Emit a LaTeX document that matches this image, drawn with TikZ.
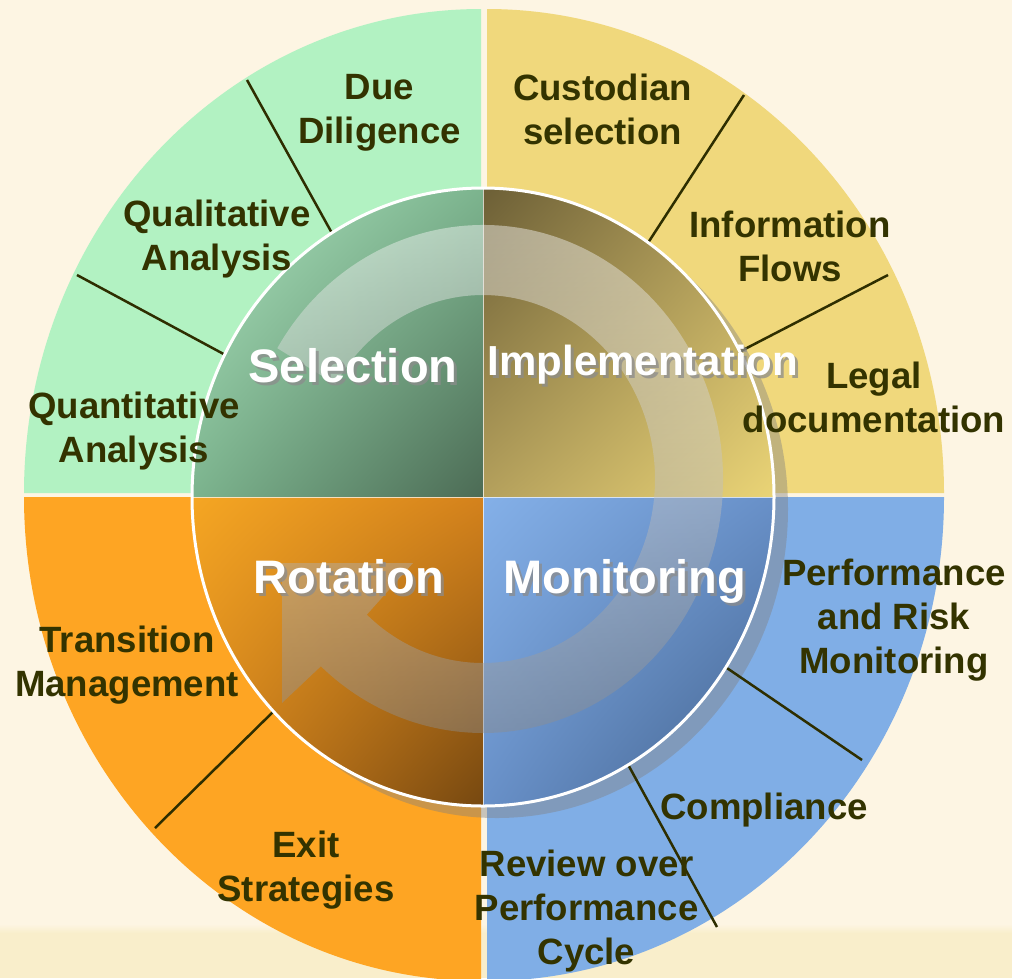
\documentclass[tikz,border=0pt]{standalone}
\usepackage{fontspec}
\setmainfont{Liberation Sans}
\usetikzlibrary{calc,shadings}

% page and ring colours
\definecolor{bgc}{HTML}{FDF5E3}
\definecolor{bandc}{HTML}{F9EECB}
\definecolor{ringgreen}{HTML}{B2F2C2}
\definecolor{ringyellow}{HTML}{F0D87C}
\definecolor{ringorange}{HTML}{FEA523}
\definecolor{ringblue}{HTML}{80AEE6}
\definecolor{labelc}{HTML}{333300}
\definecolor{sepc}{HTML}{2E2E00}
% hub quadrant shades
\definecolor{gUL}{HTML}{AEE6C0}\definecolor{gM}{HTML}{7CB48E}\definecolor{gLR}{HTML}{4C6B55}
\definecolor{yUL}{HTML}{6C5F36}\definecolor{yM}{HTML}{B4A05C}\definecolor{yLR}{HTML}{EAD476}
\definecolor{oUL}{HTML}{F5A623}\definecolor{oM}{HTML}{D4821C}\definecolor{oLR}{HTML}{764810}
\definecolor{bUL}{HTML}{84B0E8}\definecolor{bM}{HTML}{6890C8}\definecolor{bLR}{HTML}{41608A}
\definecolor{arrowdark}{HTML}{8C8C8C}

\begin{document}
\begin{tikzpicture}[x=1pt,y=-1pt,
  lbl/.style={font=\fontsize{36.6}{44}\selectfont\bfseries, text=labelc,
    align=center, inner sep=0pt},
  hub/.style={font=\fontsize{47}{52}\selectfont\bfseries, text=white,
    anchor=base, inner sep=0pt},
  hubsmall/.style={hub, font=\fontsize{42}{48}\selectfont\bfseries},
  hubshadow/.style={text=black!45, text opacity=0.75},
  sep/.style={draw=sepc, line width=2.5pt},
]
% canvas
\useasboundingbox (0,0) rectangle (1012,978);
\fill[bgc] (0,0) rectangle (1012,978);
\fill[bandc] (0,932) rectangle (1012,978);
\shade[top color=bgc, bottom color=bandc] (0,924) rectangle (1012,933);

% outer ring quadrants
\fill[ringgreen] (481,493) -- ++(-457,0)
  arc[start angle=180, end angle=270, x radius=457, y radius=484] -- cycle;
\fill[ringyellow] (487,493) -- ++(0,-484)
  arc[start angle=270, end angle=360, x radius=457, y radius=484] -- cycle;
\fill[ringblue] (487,497) -- ++(457,0)
  arc[start angle=0, end angle=90, x radius=457, y radius=484] -- cycle;
\fill[ringorange] (481,497) -- ++(0,484)
  arc[start angle=90, end angle=180, x radius=457, y radius=484] -- cycle;

% drop shadow of the hub
\fill[black!50, fill opacity=0.42] (497,509) ellipse [x radius=291, y radius=309];

% separators between the ring entries
\coordinate (s1o) at (247,80);  \coordinate (s1i) at (333,235);
\coordinate (s2o) at (77,275);  \coordinate (s2i) at (231,358);
\coordinate (s3o) at (744,95);  \coordinate (s3i) at (644,249);
\coordinate (s4o) at (888,275); \coordinate (s4i) at (741,351);
\coordinate (s5o) at (862,760); \coordinate (s5i) at (721,664);
\coordinate (s6o) at (717,927); \coordinate (s6i) at (625,759);
\coordinate (s7o) at (155,828); \coordinate (s7i) at (280,705);
\foreach \k in {1,...,7} \draw[sep] (s\k o) -- (s\k i);

% hub quadrants
\shade[upper left=gUL, upper right=gM, lower left=gM, lower right=gLR]
  (483,497) -- ++(-291,0)
  arc[start angle=180, end angle=270, x radius=291, y radius=309] -- cycle;
\shade[upper left=yUL, upper right=yM, lower left=yM, lower right=yLR]
  (483,497) -- ++(0,-309)
  arc[start angle=270, end angle=360, x radius=291, y radius=309] -- cycle;
\shade[upper left=bUL, upper right=bM, lower left=bM, lower right=bLR]
  (483,497) -- ++(291,0)
  arc[start angle=0, end angle=90, x radius=291, y radius=309] -- cycle;
\shade[upper left=oUL, upper right=oM, lower left=oM, lower right=oLR]
  (483,497) -- ++(0,309)
  arc[start angle=90, end angle=180, x radius=291, y radius=309] -- cycle;
\draw[white, line width=0.8pt, draw opacity=0.7] (192,497) -- (774,497) (483,188) -- (483,806);
\draw[white, line width=3pt] (483,497) ellipse [x radius=291, y radius=309];

% clockwise cycle arrow across the hub
\shade[top color=white, bottom color=arrowdark, fill opacity=0.45]
  (483,479) ++(211:240 and 254)
  arc[start angle=211, end angle=492.5, x radius=240, y radius=254]
  -- (282,703) -- (282,563) -- (413,563)
  -- ($(483,479)+(492.5:172 and 184)$)
  arc[start angle=492.5, end angle=211, x radius=172, y radius=184]
  -- cycle;

% hub titles
\node[hub, hubshadow] (selsh) at (356,385) {Selection};
\node[hub] (sel) at (353,382) {Selection};
\node[hubsmall, hubshadow] (impsh) at (646,378) {Implementation};
\node[hubsmall] (imp) at (643,375) {Implementation};
\node[hub, hubshadow] (rotsh) at (352,596) {Rotation};
\node[hub] (rot) at (349,593) {Rotation};
\node[hub, hubshadow] (monsh) at (628,596) {Monitoring};
\node[hub] (mon) at (625,593) {Monitoring};

% ring entries
\node[lbl] (due) at (379.5,112.8) {Due\\Diligence};
\node[lbl] (cust) at (602.5,109) {Custodian\\selection};
\node[lbl] (qual) at (217,238.8) {Qualitative\\Analysis};
\node[lbl] (info) at (790,246) {Information\\Flows};
\node[lbl] (quant) at (134,431.3) {Quantitative\\Analysis};
\node[lbl] (legal) at (874,397.5) {Legal\\documentation};
\node[lbl] (trans) at (127,664.8) {Transition\\Management};
\node[lbl] (perf) at (894,619.8) {Performance\\and Risk\\Monitoring};
\node[lbl] (comp) at (764,809.8) {Compliance};
\node[lbl] (exit) at (306,870.3) {Exit\\Strategies};
\node[lbl] (rev) at (586.5,910.8) {Review over\\Performance\\Cycle};
\end{tikzpicture}
\end{document}
